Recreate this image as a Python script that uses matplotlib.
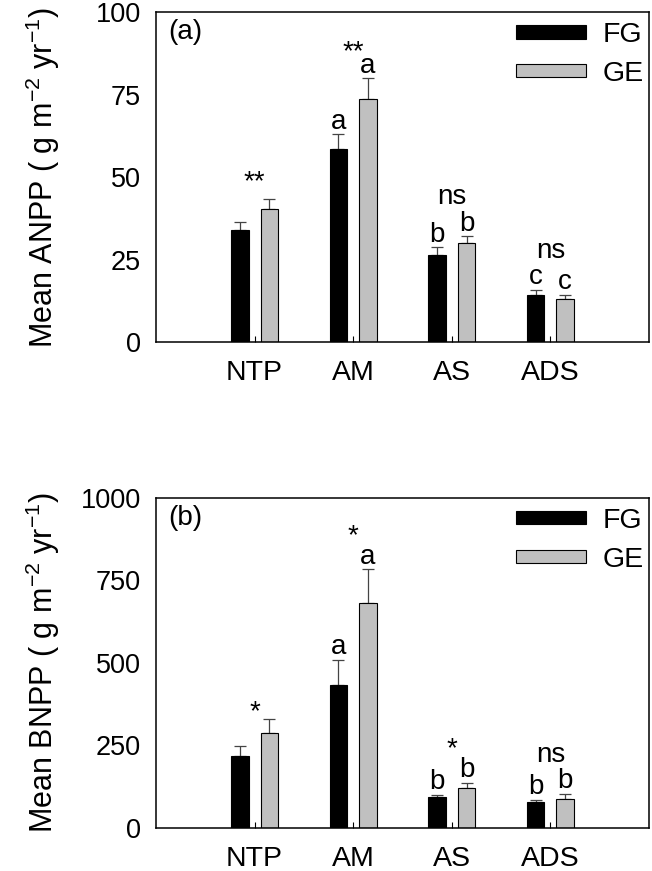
import numpy as np
import matplotlib.pyplot as plt

plt.rcParams['font.family'] = ['Liberation Sans', 'DejaVu Sans']
plt.rcParams['mathtext.default'] = 'regular'

# data
sites = ['NTP', 'AM', 'AS', 'ADS']

anpp_fg = [34.1, 58.4, 26.5, 14.3]
anpp_fg_se = [2.2, 4.6, 2.2, 1.5]
anpp_ge = [40.2, 73.5, 30.1, 13.0]
anpp_ge_se = [3.1, 6.4, 2.0, 1.3]

bnpp_fg = [219, 434, 95, 78]
bnpp_fg_se = [28, 76, 6, 8]
bnpp_ge = [289, 682, 122, 87]
bnpp_ge_se = [40, 102, 15, 17]

anpp_sig = ['**', '**', 'ns', 'ns']
anpp_fg_let = ['', 'a', 'b', 'c']
anpp_ge_let = ['', 'a', 'b', 'c']

bnpp_sig = ['*', '*', '*', 'ns']
bnpp_fg_let = ['', 'a', 'b', 'b']
bnpp_ge_let = ['', 'a', 'b', 'b']

anpp_ticks = [0, 25, 50, 75, 100]
bnpp_ticks = [0, 250, 500, 750, 1000]

# offset (points) of the significance mark above the highest error bar
sig_offset = {('**', True): 19, ('**', False): 12,
              ('*', True): 24, ('*', False): 5,
              ('ns', True): 28, ('ns', False): 9}


def panel(ax, fg, fg_se, ge, ge_se, sig, fg_let, ge_let, ticks, ylabel, tag):
    x = np.arange(1, len(sites) + 1)
    off = 0.15
    w = 0.18
    ax.bar(x - off, fg, w, color='black', edgecolor='black', lw=0.8,
           label='FG', zorder=2)
    ax.bar(x + off, ge, w, color='#c0c0c0', edgecolor='black', lw=0.8,
           label='GE', zorder=2)
    ax.errorbar(x - off, fg, yerr=[np.zeros(len(fg)), fg_se], fmt='none',
                ecolor='#444444', elinewidth=0.9, capsize=4, capthick=0.9,
                zorder=1)
    ax.errorbar(x + off, ge, yerr=[np.zeros(len(ge)), ge_se], fmt='none',
                ecolor='#444444', elinewidth=0.9, capsize=4, capthick=0.9,
                zorder=1)

    fg_top = np.array(fg) + np.array(fg_se)
    ge_top = np.array(ge) + np.array(ge_se)
    for i in range(len(sites)):
        if fg_let[i]:
            ax.annotate(fg_let[i], (x[i] - off, fg_top[i]), xytext=(0, 9),
                        textcoords='offset points', ha='center', va='center',
                        fontsize=20)
        if ge_let[i]:
            ax.annotate(ge_let[i], (x[i] + off, ge_top[i]), xytext=(0, 9),
                        textcoords='offset points', ha='center', va='center',
                        fontsize=20)
        top = max(fg_top[i], ge_top[i])
        dy = sig_offset[(sig[i], bool(fg_let[i]))]
        ax.annotate(sig[i], (x[i], top), xytext=(0, dy),
                    textcoords='offset points', ha='center', va='center',
                    fontsize=20)

    ax.set_xlim(0, 5)
    ax.set_ylim(ticks[0], ticks[-1])
    ax.set_yticks(ticks)
    ax.set_xticks(x)
    ax.set_xticklabels(sites, fontsize=20.5)
    ax.tick_params(axis='x', direction='in', length=4, width=0.8, pad=13)
    ax.tick_params(axis='y', length=0, pad=11, labelsize=19.5)
    for s in ax.spines.values():
        s.set_linewidth(1.1)
    ax.set_ylabel(ylabel, fontsize=22)
    ax.yaxis.set_label_coords(-0.19, 0.5)
    ax.text(0.025, 0.94, tag, transform=ax.transAxes, fontsize=20,
            ha='left', va='center')
    ax.legend(loc='upper right', frameon=False, fontsize=20.5,
              handlelength=2.45, handleheight=0.35, labelspacing=0.45,
              handletextpad=0.6, borderaxespad=0.3,
              bbox_to_anchor=(1.03, 1.03))


fig = plt.figure(figsize=(6.52, 8.71), dpi=100)
ax1 = fig.add_axes([0.2393, 0.6073, 0.7561, 0.3789])
ax2 = fig.add_axes([0.2393, 0.0494, 0.7561, 0.3789])

panel(ax1, anpp_fg, anpp_fg_se, anpp_ge, anpp_ge_se, anpp_sig,
      anpp_fg_let, anpp_ge_let, anpp_ticks,
      'Mean ANPP ( g m$^{-2}$ yr$^{-1}$)', '(a)')
panel(ax2, bnpp_fg, bnpp_fg_se, bnpp_ge, bnpp_ge_se, bnpp_sig,
      bnpp_fg_let, bnpp_ge_let, bnpp_ticks,
      'Mean BNPP ( g m$^{-2}$ yr$^{-1}$)', '(b)')

fig.savefig('out.png', dpi=100)
